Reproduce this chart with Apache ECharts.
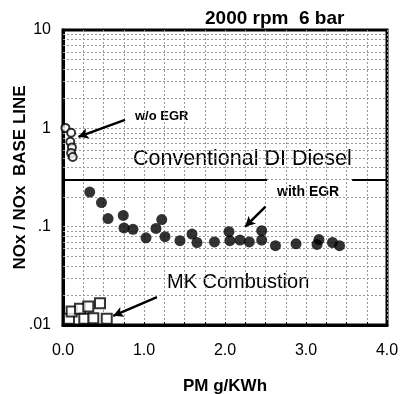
<!DOCTYPE html>
<html><head><meta charset="utf-8">
<script src="https://cdn.jsdelivr.net/npm/echarts@6/dist/echarts.min.js"></script>
<style>html,body{margin:0;padding:0;background:#fff}#c{width:403px;height:394px}</style>
</head><body><div id="c"></div>
<script>
// Data
var woEgrX = [0.03, 0.10, 0.09, 0.11, 0.10, 0.12];
var woEgrY = [1.01, 0.90, 0.73, 0.64, 0.56, 0.51];

var withEgrX = [0.33, 0.475, 0.556, 0.744, 0.753, 0.864, 1.025, 1.148, 1.219, 1.259, 1.444, 1.593, 1.654, 1.870, 2.049, 2.06, 2.185, 2.30, 2.453, 2.453, 2.623, 2.877, 3.16, 3.136, 3.327, 3.414];
var withEgrY = [0.225, 0.176, 0.121, 0.130, 0.097, 0.094, 0.077, 0.096, 0.118, 0.079, 0.072, 0.084, 0.069, 0.070, 0.089, 0.072, 0.073, 0.070, 0.091, 0.073, 0.064, 0.067, 0.074, 0.066, 0.069, 0.064];

var mkX = [0.074, 0.107, 0.21, 0.263, 0.312, 0.374, 0.457, 0.54];
var mkY = [0.0116, 0.0137, 0.0146, 0.0116, 0.0154, 0.0117, 0.0166, 0.0116];

var xTickLabels = ['0.0', '1.0', '2.0', '3.0', '4.0'];
var yTickLabels = {'0.01': '.01', '0.1': '.1', '1': '1', '10': '10'};
var dividerY = 0.3;

function zip(xs, ys) { return xs.map(function (x, i) { return [x, ys[i]]; }); }

// horizontal log minor grid lines
var hGrid = [];
[0.01, 0.1, 1].forEach(function (d) {
  for (var k = 2; k <= 9; k++) hGrid.push({ yAxis: +(k * d).toPrecision(3) });
});
[0.1, 1].forEach(function (d) { hGrid.push({ yAxis: d }); });

var chart = echarts.init(document.getElementById('c'));
var F = '"Liberation Sans", Arial, sans-serif';
chart.setOption({
  animation: false,
  backgroundColor: '#fff',
  grid: { left: 63, top: 30, width: 324, height: 295, containLabel: false, outerBoundsMode: 'none', show: true, borderColor: '#000', borderWidth: 3, backgroundColor: 'transparent' },
  xAxis: {
    type: 'value', min: 0, max: 4, interval: 0.25,
    name: 'PM g/KWh', nameLocation: 'middle', nameGap: 53,
    nameTextStyle: { fontFamily: F, fontWeight: 'bold', fontSize: 17, color: '#000' },
    axisLine: { show: true, lineStyle: { color: '#000', width: 3 } },
    axisTick: { show: true, inside: true, length: 3, lineStyle: { color: '#000' } },
    axisLabel: {
      margin: 18, fontFamily: F, fontSize: 16, color: '#000',
      formatter: function (v) { return Math.abs(v - Math.round(v)) < 1e-9 ? xTickLabels[Math.round(v)] : ''; }
    },
    splitLine: { show: true, lineStyle: { color: '#999', width: 1, type: [2, 2] } }
  },
  yAxis: {
    type: 'log', logBase: 10, min: 0.01, max: 10,
    name: 'NOx / NOx  BASE LINE', nameLocation: 'middle', nameGap: 34, nameMoveOverlap: false,
    nameTextStyle: { fontFamily: F, fontWeight: 'bold', fontSize: 17, color: '#000' },
    axisLine: { show: true, lineStyle: { color: '#000', width: 3 } },
    axisTick: { show: false },
    axisLabel: {
      margin: 12, fontFamily: F, fontSize: 16, color: '#000',
      formatter: function (v) { var key = String(+v.toPrecision(3)); return yTickLabels[key] || ''; }
    },
    splitLine: { show: false }
  },
  series: [
    {
      type: 'scatter', data: [], silent: true,
      markLine: {
        silent: true, symbol: ['none', 'none'], label: { show: false },
        lineStyle: { color: '#999', width: 1, type: [2, 2] },
        data: hGrid
      }
    },
    {
      type: 'scatter', data: [], silent: true,
      markLine: {
        silent: true, symbol: ['none', 'none'], label: { show: false },
        lineStyle: { color: '#000', width: 2, type: 'solid' },
        data: [
          [{ coord: [0, dividerY] }, { coord: [2.52, dividerY] }],
          [{ coord: [3.57, dividerY] }, { coord: [4, dividerY] }]
        ]
      }
    },
    {
      type: 'scatter', data: [], silent: true,
      markLine: {
        silent: true, symbol: ['none', 'arrow'], symbolSize: [8, 10], label: { show: false },
        lineStyle: { color: '#000', width: 2.5, type: 'solid' },
        data: [
          [{ coord: [0.765, 1.22] }, { coord: [0.19, 0.82] }],
          [{ coord: [2.5, 0.16] }, { coord: [2.25, 0.1] }],
          [{ coord: [1.16, 0.0192] }, { coord: [0.62, 0.0124] }]
        ]
      }
    },
    {
      name: 'with EGR', type: 'scatter', data: zip(withEgrX, withEgrY),
      symbol: 'circle', symbolSize: 11, itemStyle: { color: '#000' }, z: 5
    },
    {
      name: 'w/o EGR', type: 'scatter', data: zip(woEgrX, woEgrY),
      symbol: 'circle', symbolSize: 8, itemStyle: { color: '#fff', borderColor: '#000', borderWidth: 2 }, z: 6
    },
    {
      name: 'MK Combustion', type: 'scatter', data: zip(mkX, mkY),
      symbol: 'rect', symbolSize: 10, itemStyle: { color: '#fff', borderColor: '#000', borderWidth: 2 }, z: 6
    }
  ],
  graphic: [
    { type: 'text', left: 205, top: 9, style: { text: '2000 rpm  6 bar', font: 'bold 19px ' + F, fill: '#000' } },
    { type: 'text', left: 135, top: 110, style: { text: 'w/o EGR', font: 'bold 13px ' + F, fill: '#000' } },
    { type: 'text', left: 133, top: 148, style: { text: 'Conventional DI Diesel', font: '21.5px ' + F, fill: '#000' } },
    { type: 'text', left: 277, top: 185, style: { text: 'with EGR', font: 'bold 14px ' + F, fill: '#000' } },
    { type: 'text', left: 167, top: 272, style: { text: 'MK Combustion', font: '20px ' + F, fill: '#000' } }
  ]
});
</script></body></html>
